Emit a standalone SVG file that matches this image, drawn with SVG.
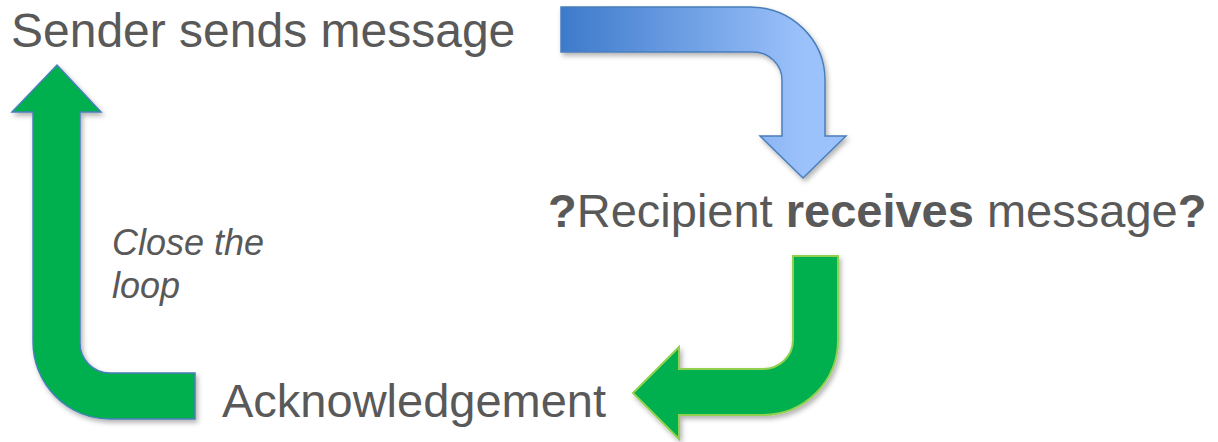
<svg xmlns="http://www.w3.org/2000/svg" width="1218" height="442" viewBox="0 0 1218 442">
  <defs>
    <style>
      .lbl { font-family: "Liberation Sans", Arial, sans-serif; font-size: 47px; fill: #595959; }
      .big { font-size: 48px; }
      .note { font-family: "Liberation Sans", Arial, sans-serif; font-size: 36px; font-style: italic; fill: #595959; }
      .b { font-weight: bold; }
      .green { fill: #00b050; }
    </style>
    <linearGradient id="blueGrad" gradientUnits="userSpaceOnUse" x1="561" y1="0" x2="805" y2="0">
      <stop offset="0" stop-color="#3d7acb"/>
      <stop offset="1" stop-color="#9cc2fb"/>
    </linearGradient>
    <filter id="shadow" x="-20%" y="-20%" width="140%" height="140%">
      <feDropShadow dx="2" dy="3" stdDeviation="2.5" flood-color="#000" flood-opacity="0.3"/>
    </filter>
  </defs>

  <g id="connectors">
    <path id="arrow-send" filter="url(#shadow)" fill="url(#blueGrad)" stroke="#4a7ebb" stroke-width="1.5"
      d="M561,7 L750,7 A75,73 0 0 1 825,80 L825,136 L846,136 L803,178 L760,136 L782,136 L782,80 A29,28 0 0 0 753,52 L561,52 Z"/>
    <path id="arrow-ack" class="green" filter="url(#shadow)" stroke="#92d050" stroke-width="2"
      d="M793,256 L838,256 L838,340 A75,75 0 0 1 763,415 L679,415 L679,439 L633,393 L679,347 L679,369 L763,369 A30,29 0 0 0 793,340 Z"/>
    <path id="arrow-loop" class="green" filter="url(#shadow)" stroke="#4a7ebb" stroke-width="1.5"
      d="M57,65 L101,112 L80,112 L80,343 A30,30 0 0 0 110,373 L195,373 L195,419 L110,419 A77,77 0 0 1 33,342 L33,112 L12,112 Z"/>
    <text class="note"><tspan x="112" y="255">Close the</tspan><tspan x="112" y="298">loop</tspan></text>
  </g>

  <g id="sender">
    <text class="lbl big" x="11" y="47">Sender sends message</text>
  </g>

  <g id="recipient">
    <text class="lbl" x="548" y="227"><tspan class="b">?</tspan>Recipient <tspan class="b">receives</tspan> message<tspan class="b">?</tspan></text>
  </g>

  <g id="acknowledgement">
    <text class="lbl" x="222" y="417">Acknowledgement</text>
  </g>
</svg>
